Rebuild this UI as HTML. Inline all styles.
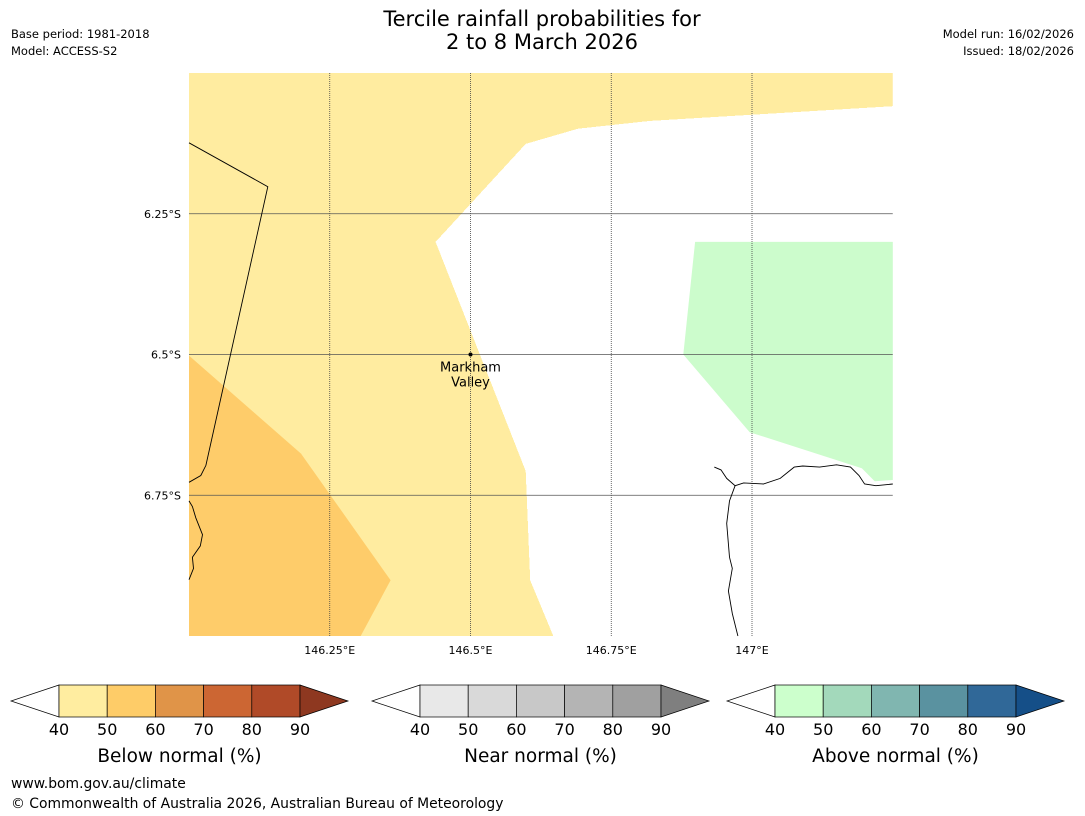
<!DOCTYPE html>
<html><head><meta charset="utf-8"><style>
body{margin:0;background:#fff;font-family:"DejaVu Sans","Liberation Sans",sans-serif}
svg{display:block}
</style></head><body>
<svg id="chart" width="1085" height="816" viewBox="0 0 1085 816" xmlns="http://www.w3.org/2000/svg" font-family="DejaVu Sans, Liberation Sans, sans-serif">
<text x="542" y="26" text-anchor="middle" font-size="21">Tercile rainfall probabilities for</text>
<text x="542" y="49" text-anchor="middle" font-size="21">2 to 8 March 2026</text>
<text x="11" y="38" font-size="11.5">Base period: 1981-2018</text>
<text x="11" y="55" font-size="11.5">Model: ACCESS-S2</text>
<text x="1074" y="38" font-size="11.5" text-anchor="end">Model run: 16/02/2026</text>
<text x="1074" y="55" font-size="11.5" text-anchor="end">Issued: 18/02/2026</text>
<g id="map"></g>
<g id="bars"></g>
<text x="11" y="788" font-size="13.9">www.bom.gov.au/climate</text>
<text x="11" y="808" font-size="13.9">© Commonwealth of Australia 2026, Australian Bureau of Meteorology</text>
</svg>
<script>
const lonTicks=[146.25,146.5,146.75,147];
const lonLabels=["146.25°E","146.5°E","146.75°E","147°E"];
const latTicks=[6.25,6.5,6.75];
const latLabels=["6.25°S","6.5°S","6.75°S"];
const whiteRegion=[[147.25,6.059],[146.819,6.085],[146.691,6.099],[146.598,6.126],[146.438,6.300],[146.598,6.707],[146.606,6.901],[146.647,7.0],[147.25,7.0]];
const orangeRegion=[[146.0,6.502],[146.199,6.676],[146.358,6.901],[146.305,7.0],[146.0,7.0]];
const greenRegion=[[146.899,6.300],[147.25,6.300],[147.25,6.723],[147.218,6.725],[147.195,6.702],[146.996,6.638],[146.878,6.5]];
const coastWest=[[146.0,6.124],[146.140,6.202],[146.030,6.697],[146.021,6.715],[146.0,6.727]];
const coastSW=[[146.0,6.90],[146.008,6.88],[146.006,6.86],[146.02,6.84],[146.024,6.82],[146.012,6.79],[146.006,6.77],[146.0,6.76]];
const coastEast=[[146.933,6.700],[146.945,6.705],[146.955,6.72],[146.97,6.733],[146.985,6.728],[147.02,6.73],[147.05,6.72],[147.075,6.70],[147.09,6.698],[147.12,6.70],[147.15,6.696],[147.175,6.70],[147.19,6.715],[147.2,6.73],[147.22,6.733],[147.25,6.730]];
const river=[[146.970,6.733],[146.96,6.76],[146.955,6.80],[146.96,6.86],[146.965,6.88],[146.958,6.92],[146.965,6.96],[146.975,7.0]];
const marker={name:["Markham","Valley"],lon:146.5,lat:6.5};
const cbTicks=[40,50,60,70,80,90];
const cbTitles=["Below normal (%)","Near normal (%)","Above normal (%)"];
const cbColors=[["#fff","#ffeda0","#fecc68","#e09448","#cc6633","#b04a28","#8e3820"],["#fff","#e8e8e8","#d9d9d9","#c8c8c8","#b4b4b4","#a0a0a0","#7f7f7f"],["#fff","#ccffcc","#a3d9bb","#80b6b0","#5a92a0","#306898","#154f88"]];
const NS="http://www.w3.org/2000/svg";
const X=l=>189+(l-146)*563, Y=a=>73+(a-6)*563;
function mk(t,at,p){const e=document.createElementNS(NS,t);for(const k in at)e.setAttribute(k,at[k]);p.appendChild(e);return e;}
const map=document.getElementById('map');
const pts=a=>a.map(p=>X(p[0]).toFixed(1)+","+Y(p[1]).toFixed(1)).join(" ");
let r=mk('rect',{x:189,y:73,width:X(147.25)-189,height:Y(7)-73,fill:'#ffeca0'},map);


let p=mk('polygon',{points:pts(whiteRegion),fill:'#fff','shape-rendering':'crispEdges'},map);


p=mk('polygon',{points:pts(orangeRegion),fill:'#fecc6a'},map);


p=mk('polygon',{points:pts(greenRegion),fill:'#ccfccc'},map);


latTicks.forEach((v,i)=>{
 const l=mk('line',{x1:189,x2:X(147.25),y1:Y(v),y2:Y(v),stroke:'#555','stroke-width':0.8},map);
 
 
 const t=mk('text',{x:181,y:Y(v)+4,'text-anchor':'end','font-size':11},map);t.textContent=latLabels[i];
 
 
});
lonTicks.forEach((v,i)=>{
 const l=mk('line',{x1:X(v),x2:X(v),y1:73,y2:Y(7),stroke:'#444','stroke-width':0.8,'stroke-dasharray':'1,1'},map);
 
 
 const t=mk('text',{x:X(v),y:654,'text-anchor':'middle','font-size':11},map);t.textContent=lonLabels[i];
 
 
});
[coastWest,coastSW,coastEast,river].forEach(c=>{
 const l=mk('polyline',{points:pts(c),fill:'none',stroke:'#000','stroke-width':0.9},map);
 
 
});
let d=mk('circle',{cx:X(marker.lon),cy:Y(marker.lat),r:2,fill:'#000'},map);


marker.name.forEach((n,i)=>{const t=mk('text',{x:X(marker.lon),y:Y(marker.lat)+17+i*15,'text-anchor':'middle','font-size':13},map);t.textContent=n;
 
 });
const bars=document.getElementById('bars');
const starts=[59,420,775];
starts.forEach((s,bi)=>{
 const g=mk('g',{},bars);
 
 
 const w=48.2,y0=685,h=32,cols=cbColors[bi];
 mk('polygon',{points:`${s},${y0} ${s-48},${y0+h/2} ${s},${y0+h}`,fill:cols[0],stroke:'#000','stroke-width':0.7},g);
 for(let k=0;k<5;k++)mk('rect',{x:s+k*w,y:y0,width:w,height:h,fill:cols[k+1],stroke:'#000','stroke-width':0.7},g);
 const e=s+5*w;
 mk('polygon',{points:`${e},${y0} ${e+48},${y0+h/2} ${e},${y0+h}`,fill:cols[6],stroke:'#000','stroke-width':0.7},g);
 cbTicks.forEach((v,k)=>{const t=mk('text',{x:s+k*w,y:735,'text-anchor':'middle','font-size':16},g);t.textContent=v;
  
  });
 const t=mk('text',{x:s+2.5*w,y:762,'text-anchor':'middle','font-size':18.5},g);t.textContent=cbTitles[bi];
 
 
});
</script>
</body></html>
